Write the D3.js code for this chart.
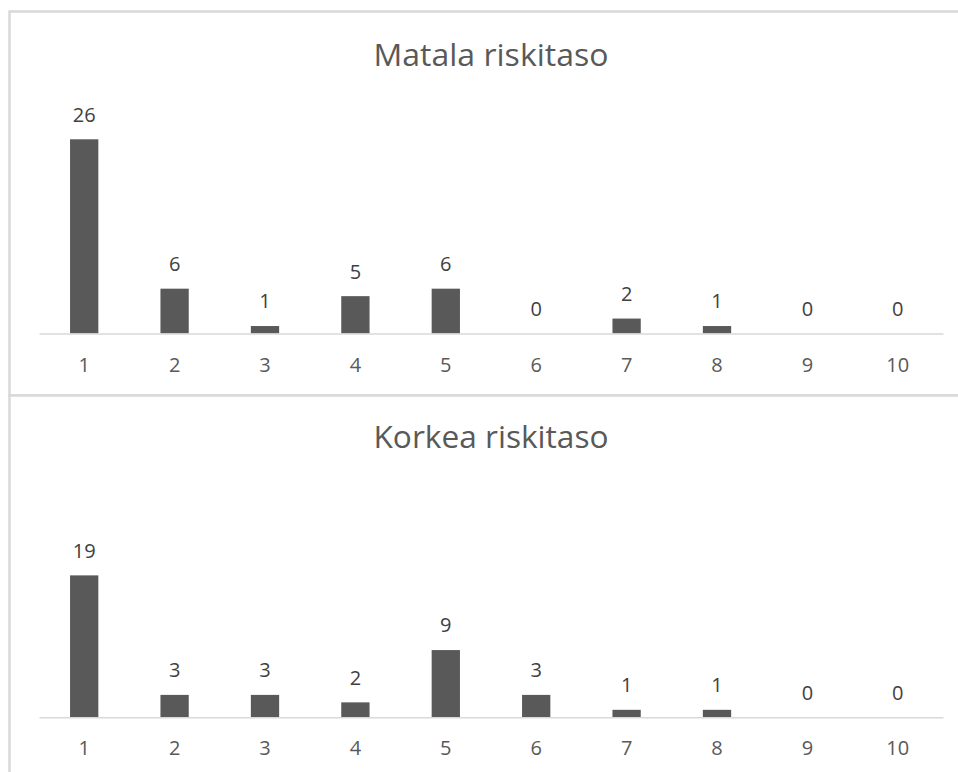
<!DOCTYPE html>
<html>
<head>
<meta charset="utf-8">
<script src="https://cdn.jsdelivr.net/npm/d3@7"></script>
<style>
  html, body { margin: 0; padding: 0; background: #ffffff; }
  svg { display: block; }
</style>
</head>
<body>
<svg id="chart" width="958" height="772"></svg>
<script>
// ---- data ----
const categories = ["1", "2", "3", "4", "5", "6", "7", "8", "9", "10"];
const lowRiskValues = [26, 6, 1, 5, 6, 0, 2, 1, 0, 0];
const highRiskValues = [19, 3, 3, 2, 9, 3, 1, 1, 0, 0];
const panelTitles = ["Matala riskitaso", "Korkea riskitaso"];
const axisMax = [30, 20];

// ---- drawing ----
const svg = d3.select("#chart");
const FONT = "'Open Sans', 'Noto Sans', sans-serif";

// panel frames
const frames = [
  { x: 9.5, y: 11.5, w: 1000, h: 384 },
  { x: 9.5, y: 395.5, w: 1000, h: 400 }
];
frames.forEach(f => {
  svg.append("rect")
    .attr("x", f.x).attr("y", f.y).attr("width", f.w).attr("height", f.h)
    .attr("fill", "#ffffff").attr("stroke", "#d9d9d9").attr("stroke-width", 2.5);
});

const panels = [
  { values: lowRiskValues, title: panelTitles[0], max: axisMax[0], base: 333.5, titleY: 66 },
  { values: highRiskValues, title: panelTitles[1], max: axisMax[1], base: 717.3, titleY: 448.3 }
];

const pxPerUnit = 7.47;

const x = d3.scaleBand()
  .domain(categories)
  .range([39, 943])
  .paddingInner(0.687)
  .paddingOuter(0.3435);

panels.forEach(p => {
  const y = d3.scaleLinear()
    .domain([0, p.max])
    .range([p.base, p.base - p.max * pxPerUnit]);

  const g = svg.append("g");

  // title
  g.append("text")
    .attr("x", 491)
    .attr("y", p.titleY)
    .attr("text-anchor", "middle")
    .attr("font-family", FONT)
    .attr("font-size", 31)
    .attr("fill", "#595959")
    .attr("textLength", 235)
    .attr("lengthAdjust", "spacingAndGlyphs")
    .text(p.title);

  // bars
  g.selectAll("rect.bar")
    .data(p.values)
    .join("rect")
    .attr("class", "bar")
    .attr("x", (d, i) => x(categories[i]))
    .attr("width", x.bandwidth())
    .attr("y", d => y(d))
    .attr("height", d => y(0) - y(d))
    .attr("fill", "#595959");

  // axis
  const axis = d3.axisBottom(x).tickSize(0).tickSizeOuter(0).tickPadding(0);
  const ag = g.append("g")
    .attr("transform", `translate(0,${p.base})`)
    .call(axis);
  ag.select(".domain").attr("stroke", "#d9d9d9").attr("stroke-width", 1.4);
  ag.selectAll(".tick text")
    .attr("dy", null)
    .attr("y", 38)
    .attr("font-family", FONT)
    .attr("font-size", 20)
    .attr("fill", "#595959");

  // value labels
  g.selectAll("text.val")
    .data(p.values)
    .join("text")
    .attr("class", "val")
    .attr("x", (d, i) => x(categories[i]) + x.bandwidth() / 2)
    .attr("y", d => y(d) - 17.6)
    .attr("text-anchor", "middle")
    .attr("font-family", FONT)
    .attr("font-size", 20)
    .attr("fill", "#404040")
    .text(d => d);
});
</script>
</body>
</html>
